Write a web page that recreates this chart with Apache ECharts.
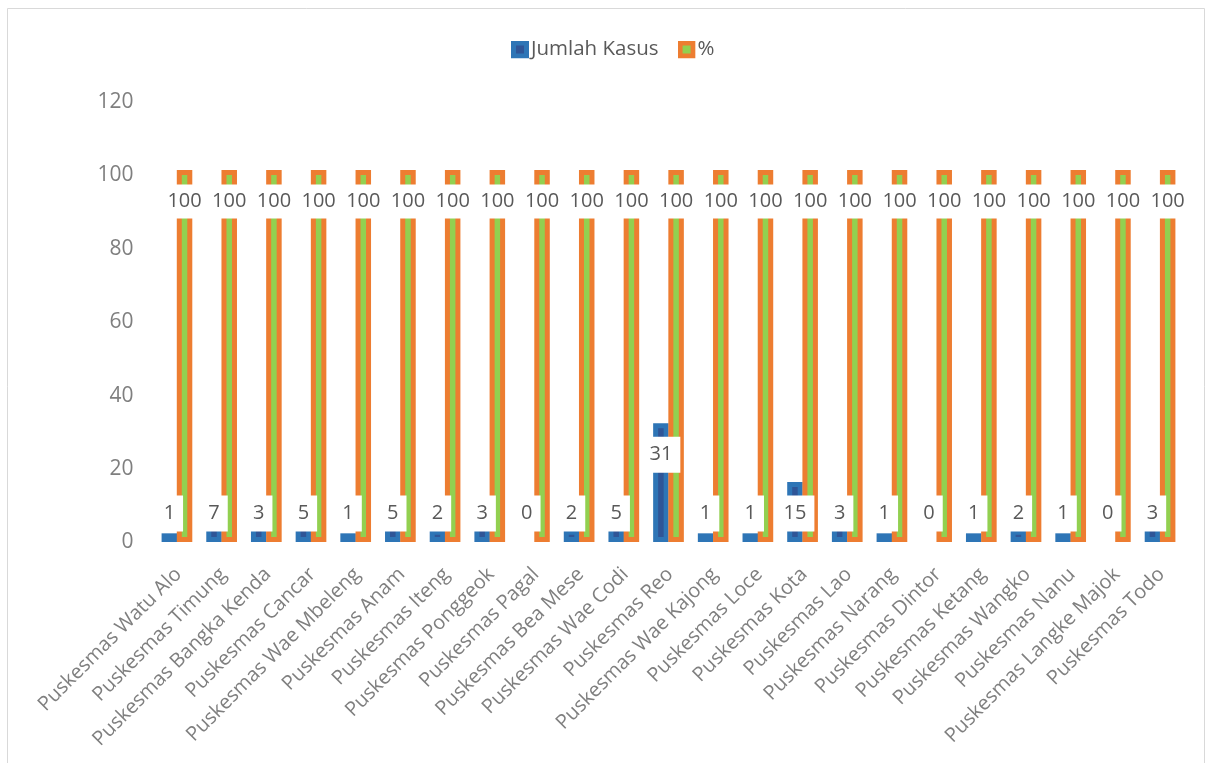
<!DOCTYPE html>
<html>
<head>
<meta charset="utf-8">
<script src="https://cdn.jsdelivr.net/npm/echarts@6/dist/echarts.min.js"></script>
<style>
  html, body { margin: 0; padding: 0; background: #fff; }
  #chart { width: 1206px; height: 763px; }
</style>
</head>
<body>
<div id="chart"></div>
<script>
// Health centres (Puskesmas) and their case counts / percentages
const categories = [
  'Puskesmas Watu Alo', 'Puskesmas Timung', 'Puskesmas Bangka Kenda', 'Puskesmas Cancar',
  'Puskesmas Wae Mbeleng', 'Puskesmas Anam', 'Puskesmas Iteng', 'Puskesmas Ponggeok',
  'Puskesmas Pagal', 'Puskesmas Bea Mese', 'Puskesmas Wae Codi', 'Puskesmas Reo',
  'Puskesmas Wae Kajong', 'Puskesmas Loce', 'Puskesmas Kota', 'Puskesmas Lao',
  'Puskesmas Narang', 'Puskesmas Dintor', 'Puskesmas Ketang', 'Puskesmas Wangko',
  'Puskesmas Nanu', 'Puskesmas Langke Majok', 'Puskesmas Todo'
];
const jumlahKasus = [1, 7, 3, 5, 1, 5, 2, 3, 0, 2, 5, 31, 1, 1, 15, 3, 1, 0, 1, 2, 1, 0, 3];
const persen = [100, 100, 100, 100, 100, 100, 100, 100, 100, 100, 100, 100,
                100, 100, 100, 100, 100, 100, 100, 100, 100, 100, 100];
const yMin = 0, yMax = 120, yStep = 20;

const FONT = '"Open Sans", "DejaVu Sans", sans-serif';
const SLOT = 7.6;      // half distance between the two bar centres
const CORE_W = 10.5;   // bar body width (outline is drawn around it)
const OUTLINE = 5;

const toPairs = arr => arr.map((v, i) => [i, v]);

// Bar: inner fill with a thick outer outline; slot -1 = left, +1 = right
function barRenderer(slot, outer, inner) {
  return function (params, api) {
    const i = api.value(0), v = api.value(1);
    if (!v) return null;
    const top = api.coord([i, v]);
    const base = api.coord([i, 0]);
    const cx = top[0] + slot * SLOT;
    return {
      type: 'rect',
      shape: { x: cx - CORE_W / 2, y: top[1], width: CORE_W, height: base[1] - top[1] },
      style: { fill: inner, stroke: outer, lineWidth: OUTLINE }
    };
  };
}

// Value label in a white box, placed just inside the bar top
function labelRenderer(slot, pad) {
  return function (params, api) {
    const i = api.value(0), v = api.value(1);
    const top = api.coord([i, v]);
    const base = api.coord([i, 0]);
    const cx = top[0] + slot * SLOT;
    const cy = Math.min(top[1] + 29, base[1] - 26);
    return {
      type: 'text',
      x: cx, y: cy,
      style: {
        text: String(v),
        fill: '#595959',
        font: '20px ' + FONT,
        align: 'center',
        verticalAlign: 'middle',
        backgroundColor: '#ffffff',
        padding: pad
      }
    };
  };
}

function legendIcon(outer, inner) {
  const svg = '<svg xmlns="http://www.w3.org/2000/svg" width="18" height="18" viewBox="0 0 18 18">' +
    '<rect x="0" y="0" width="18" height="18" fill="' + outer + '"/>' +
    '<rect x="5" y="5" width="8" height="8" fill="' + inner + '"/></svg>';
  return 'image://data:image/svg+xml;charset=utf-8,' + encodeURIComponent(svg);
}

const chart = echarts.init(document.getElementById('chart'), null, { renderer: 'canvas' });

chart.setOption({
  animation: false,
  backgroundColor: '#ffffff',
  graphic: [{
    type: 'rect',
    shape: { x: 7.5, y: 8.5, width: 1197, height: 780 },
    style: { fill: 'none', stroke: '#d9d9d9', lineWidth: 1 },
    silent: true
  }],
  legend: {
    top: 34,
    left: 506,
    itemWidth: 18,
    itemHeight: 18,
    itemGap: 19,
    textStyle: { color: '#595959', fontSize: 20.5, fontFamily: FONT, padding: [0, 0, 0, -3] },
    data: [
      { name: 'Jumlah Kasus', icon: legendIcon('#2E75B6', '#2F5597') },
      { name: '%', icon: legendIcon('#ED7D31', '#92D050') }
    ]
  },
  grid: { left: 154.6, right: 23.6, top: 99, bottom: 223.5 },
  xAxis: {
    type: 'category',
    data: categories,
    axisLine: { show: false },
    axisTick: { show: false },
    axisLabel: {
      rotate: 45,
      interval: 0,
      margin: 19,
      verticalAlign: 'top',
      padding: [0, 8, 0, 0],
      color: '#7f7f7f',
      fontSize: 20,
      fontFamily: FONT
    }
  },
  yAxis: {
    type: 'value',
    min: yMin, max: yMax, interval: yStep,
    axisLine: { show: false },
    axisTick: { show: false },
    splitLine: { show: false },
    axisLabel: {
      margin: 21,
      formatter: '{t|{value}}',
      rich: {
        t: { color: '#7f7f7f', fontSize: 21, fontFamily: FONT, padding: [6, 0, 0, 0] }
      }
    }
  },
  series: [
    {
      name: 'Jumlah Kasus',
      type: 'custom',
      itemStyle: { color: '#2E75B6' },
      renderItem: barRenderer(-1, '#2E75B6', '#2F5597'),
      encode: { x: 0, y: 1 },
      data: toPairs(jumlahKasus),
      z: 2
    },
    {
      name: '%',
      type: 'custom',
      itemStyle: { color: '#ED7D31' },
      renderItem: barRenderer(1, '#ED7D31', '#92D050'),
      encode: { x: 0, y: 1 },
      data: toPairs(persen),
      z: 2
    },
    {
      name: 'label-%',
      type: 'custom',
      renderItem: labelRenderer(1, [7, 4]),
      encode: { x: 0, y: 1 },
      data: toPairs(persen),
      z: 5
    },
    {
      name: 'label-Jumlah Kasus',
      type: 'custom',
      renderItem: labelRenderer(-1, [8, 8]),
      encode: { x: 0, y: 1 },
      data: toPairs(jumlahKasus),
      z: 6
    }
  ]
});
</script>
</body>
</html>
